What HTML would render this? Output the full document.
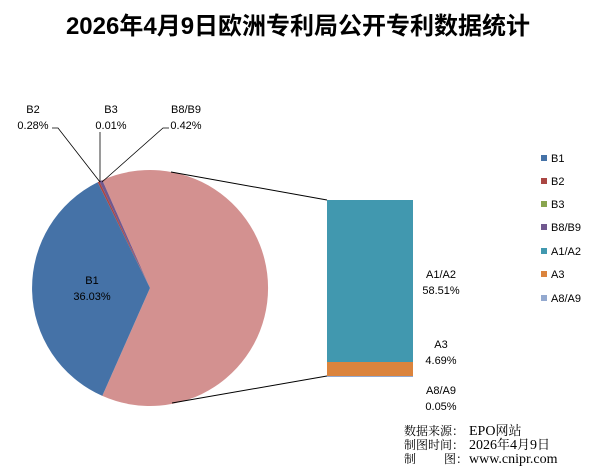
<!DOCTYPE html>
<html><head><meta charset="utf-8"><style>
body{margin:0;background:#fff}
svg{display:block}
text{font-family:"Liberation Sans","DejaVu Sans","Noto Sans CJK SC",sans-serif;font-size:11px;fill:#000}
.s{font-family:'Liberation Serif','Noto Serif CJK SC',serif;font-size:12px}
.l{font-family:'Liberation Serif','Noto Serif CJK SC',serif;font-size:14px}
</style></head><body>
<svg width="600" height="471" viewBox="0 0 600 471" xmlns="http://www.w3.org/2000/svg">
<text x="298" y="34" text-anchor="middle" style="font-size:24px;font-weight:bold;font-family:'Liberation Sans','Noto Sans CJK SC',sans-serif">2026年4月9日欧洲专利局公开专利数据统计</text>
<path d="M150,288 L102.3,180.1 A118,118 0 1 1 102.3,395.9 Z" fill="#D39190"/>
<path d="M150,288 L99.4,181.4 A118,118 0 0 1 102.3,180.1 Z" fill="#71588F"/>
<path d="M150,288 L97.6,182.3 A118,118 0 0 1 99.4,181.4 Z" fill="#AA4643"/>
<path d="M150,288 L97.6,182.3 A118,118 0 0 0 102.3,395.9 Z" fill="#4572A7"/>
<line x1="171" y1="172" x2="327" y2="200" stroke="#000" stroke-width="1"/>
<line x1="172" y1="403" x2="327" y2="376" stroke="#000" stroke-width="1"/>
<rect x="327" y="200" width="86" height="162" fill="#4198AF"/>
<rect x="327" y="362" width="86" height="14" fill="#DB843D"/>
<rect x="327" y="376" width="86" height="1" fill="#93A9CF"/>
<polyline points="52,128 58,128 100,182" fill="none" stroke="#000" stroke-width="0.8"/>
<polyline points="100,132 100,182" fill="none" stroke="#000" stroke-width="0.8"/>
<polyline points="169,128 163,128 102,182" fill="none" stroke="#000" stroke-width="0.8"/>
<text x="33" y="113" text-anchor="middle">B2</text>
<text x="33" y="129" text-anchor="middle">0.28%</text>
<text x="111" y="113" text-anchor="middle">B3</text>
<text x="111" y="129" text-anchor="middle">0.01%</text>
<text x="186" y="113" text-anchor="middle">B8/B9</text>
<text x="186" y="129" text-anchor="middle">0.42%</text>
<text x="92" y="284" text-anchor="middle">B1</text>
<text x="92" y="300" text-anchor="middle">36.03%</text>
<text x="441" y="278" text-anchor="middle">A1/A2</text>
<text x="441" y="294" text-anchor="middle">58.51%</text>
<text x="441" y="348" text-anchor="middle">A3</text>
<text x="441" y="364" text-anchor="middle">4.69%</text>
<text x="441" y="394" text-anchor="middle">A8/A9</text>
<text x="441" y="410" text-anchor="middle">0.05%</text>
<rect x="541" y="155" width="6" height="6" fill="#4572A7"/><text x="551" y="162">B1</text>
<rect x="541" y="178" width="6" height="6" fill="#AA4643"/><text x="551" y="185">B2</text>
<rect x="541" y="201" width="6" height="6" fill="#89A54E"/><text x="551" y="208">B3</text>
<rect x="541" y="224" width="6" height="6" fill="#71588F"/><text x="551" y="231">B8/B9</text>
<rect x="541" y="248" width="6" height="6" fill="#4198AF"/><text x="551" y="255">A1/A2</text>
<rect x="541" y="271" width="6" height="6" fill="#DB843D"/><text x="551" y="278">A3</text>
<rect x="541" y="295" width="6" height="6" fill="#93A9CF"/><text x="551" y="302">A8/A9</text>
<text x="404" y="435" class="s">数据来源：</text>
<text x="469" y="435" class="l">EPO<tspan class="s" style="font-size:13px">网站</tspan></text>
<text x="404" y="449" class="s">制图时间：</text>
<text x="469" y="449" class="l">2026<tspan style="font-size:13px">年</tspan>4<tspan style="font-size:13px">月</tspan>9<tspan style="font-size:13px">日</tspan></text>
<text x="404" y="463" class="s">制</text>
<text x="444" y="463" class="s">图：</text>
<text x="469" y="463" class="l">www.cnipr.com</text>
</svg>
</body></html>
